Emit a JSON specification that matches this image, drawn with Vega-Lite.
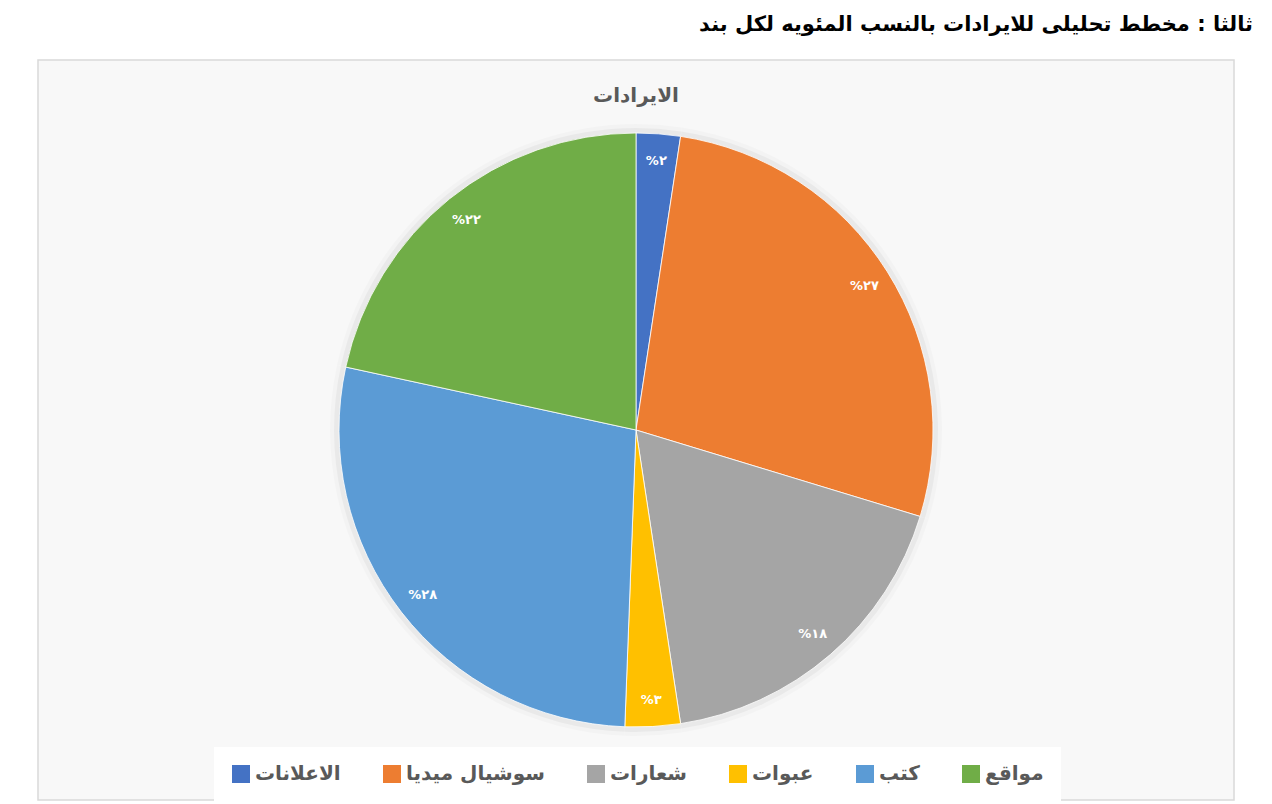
{
  "$schema": "https://vega.github.io/schema/vega-lite/v6.json",
  "autosize": {"type": "pad"},
  "padding": {"left": 37, "top": 14, "right": 20, "bottom": 4},
  "background": "white",
  "config": {
    "view": {"stroke": "#d9d9d9", "strokeWidth": 1.5, "fill": "#f8f8f8"},
    "font": "DejaVu Sans"
  },
  "title": {
    "text": "ثالثا : مخطط تحليلى للايرادات بالنسب المئويه لكل بند",
    "anchor": "end",
    "frame": "group",
    "offset": 24,
    "dx": 19,
    "fontSize": 21,
    "fontWeight": "bold",
    "color": "#000000",
    "font": "DejaVu Sans"
  },
  "data": {
    "values": [
      {"idx": 1, "item": "الاعلانات", "value": 2.4, "label": "%٢"},
      {"idx": 2, "item": "سوشيال ميديا", "value": 27.3, "label": "%٢٧"},
      {"idx": 3, "item": "شعارات", "value": 17.9, "label": "%١٨"},
      {"idx": 4, "item": "عبوات", "value": 3.0, "label": "%٣"},
      {"idx": 5, "item": "كتب", "value": 27.8, "label": "%٢٨"},
      {"idx": 6, "item": "مواقع", "value": 21.6, "label": "%٢٢"}
    ]
  },
  "vconcat": [
    {
      "width": 1196,
      "height": 740,
      "view": {"stroke": "#d9d9d9", "strokeWidth": 1.5, "fill": "#f8f8f8"},
      "title": {
        "text": "الايرادات",
        "anchor": "middle",
        "offset": -46,
        "fontSize": 20,
        "fontWeight": "bold",
        "color": "#595959",
        "font": "DejaVu Sans"
      },
      "encoding": {
        "theta": {"field": "value", "type": "quantitative", "stack": true},
        "order": {"field": "idx", "type": "quantitative"}
      },
      "layer": [
        {
          "mark": {"type": "arc", "outerRadius": 306, "fill": "#000000", "opacity": 0.02, "strokeWidth": 0}
        },
        {
          "mark": {"type": "arc", "outerRadius": 302, "fill": "#000000", "opacity": 0.04, "strokeWidth": 0}
        },
        {
          "mark": {"type": "arc", "outerRadius": 297, "stroke": "#ffffff", "strokeWidth": 0.8},
          "encoding": {
            "color": {
              "field": "item",
              "type": "nominal",
              "sort": ["الاعلانات", "سوشيال ميديا", "شعارات", "عبوات", "كتب", "مواقع"],
              "scale": {
                "domain": ["الاعلانات", "سوشيال ميديا", "شعارات", "عبوات", "كتب", "مواقع"],
                "range": ["#4472c4", "#ed7d31", "#a5a5a5", "#ffc000", "#5b9bd5", "#70ad47"]
              },
              "legend": {
                "title": null,
                "orient": "none",
                "direction": "horizontal",
                "legendX": 176,
                "legendY": 687,
                "symbolType": "square",
                "symbolSize": 324,
                "symbolStrokeWidth": 0,
                "labelFontSize": 20,
                "labelFont": "DejaVu Sans",
                "labelFontWeight": "bold",
                "labelColor": "#595959",
                "labelOffset": 4,
                "labelLimit": 300,
                "columnPadding": 41,
                "padding": 17,
                "fillColor": "#ffffff"
              }
            }
          }
        },
        {
          "mark": {"type": "text", "radius": 270, "fontSize": 13, "fontWeight": "bold", "fill": "#ffffff", "font": "DejaVu Sans"},
          "encoding": {
            "text": {"field": "label", "type": "nominal"}
          }
        }
      ]
    }
  ]
}
